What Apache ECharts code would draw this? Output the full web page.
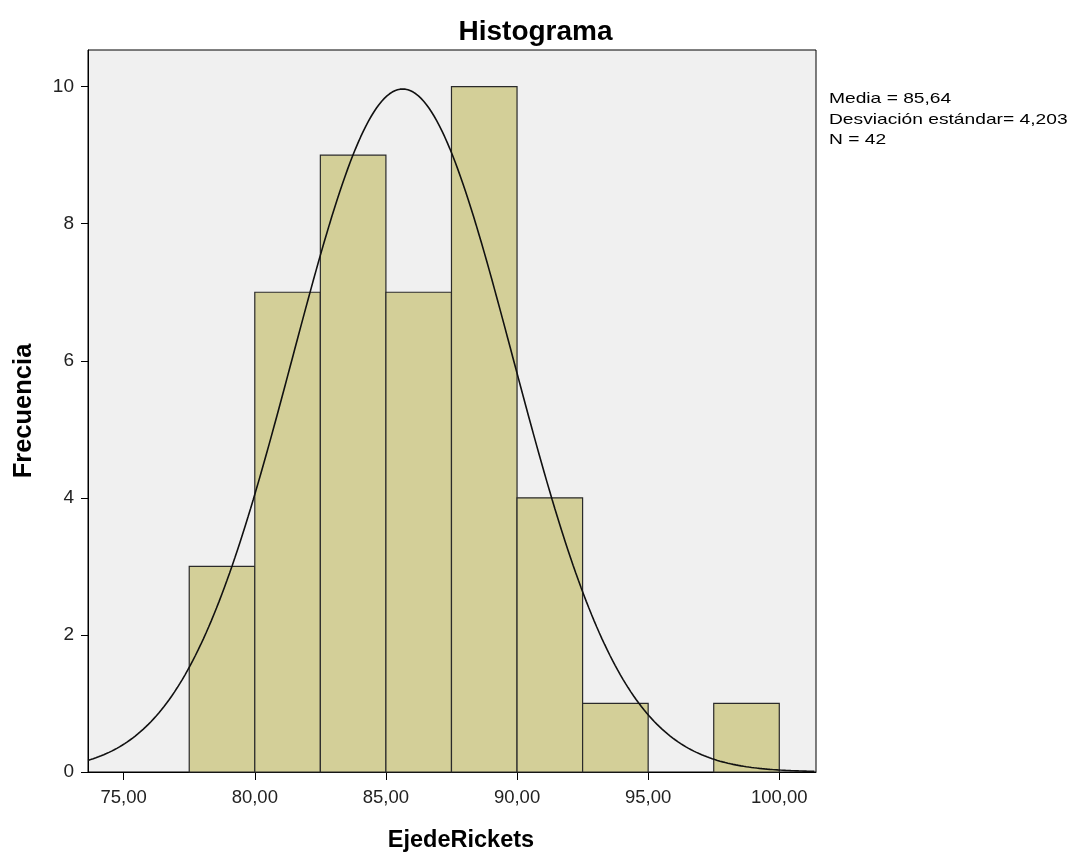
<!DOCTYPE html>
<html>
<head>
<meta charset="utf-8">
<script src="https://cdn.jsdelivr.net/npm/echarts@6/dist/echarts.min.js"></script>
<style>
  html, body { margin: 0; padding: 0; background: #fff; }
  #chart { width: 1071px; height: 854px; }
</style>
</head>
<body>
<div id="chart"></div>
<script>
// Histogram bins of EjedeRickets (lower edge, upper edge) and their counts
const binStarts = [77.5, 80, 82.5, 85, 87.5, 90, 92.5, 95, 97.5];
const binEnds   = [80, 82.5, 85, 87.5, 90, 92.5, 95, 97.5, 100];
const counts    = [3, 7, 9, 7, 10, 4, 1, 0, 1];

// Summary statistics shown beside the plot
const media = 85.64;
const desviacion = 4.203;
const n = 42;

// Tick values for both axes
const xTicks = [75, 80, 85, 90, 95, 100];
const yTicks = [0, 2, 4, 6, 8, 10];

const xMin = 73.64, xMax = 101.4;
const yMin = 0, yMax = 10.535;

// Normal curve scaled to frequency: N * bin width * density(x)
const binWidth = binEnds[0] - binStarts[0];
const curve = [];
for (let x = xMin; x <= xMax + 1e-9; x += 0.1) {
  const z = (x - media) / desviacion;
  const y = n * binWidth * Math.exp(-0.5 * z * z) / (desviacion * Math.sqrt(2 * Math.PI));
  curve.push([x, y]);
}

const bars = binStarts.map((s, i) => [s, binEnds[i], counts[i]]);
const fmt = v => v.toFixed(2).replace('.', ',');
const font = 'Liberation Sans, Arial, sans-serif';

const chart = echarts.init(document.getElementById('chart'), null, { renderer: 'canvas' });
chart.setOption({
  animation: false,
  title: {
    text: 'Histograma',
    left: 'center',
    top: 13,
    textStyle: { fontFamily: font, fontSize: 28, fontWeight: 'bold', color: '#000' }
  },
  graphic: [{
    type: 'text',
    left: 829,
    top: 89,
    scaleX: 1.28,
    style: {
      text: 'Media = ' + String(media).replace('.', ',') + '\n' +
            'Desviación estándar= ' + String(desviacion).replace('.', ',') + '\n' +
            'N = ' + n,
      fontFamily: font,
      fontSize: 15,
      lineHeight: 20.5,
      fill: '#000'
    }
  }],
  grid: {
    left: 88, right: 255, top: 50, bottom: 82,
    outerBoundsMode: 'none',
    show: true,
    backgroundColor: '#F0F0F0',
    borderColor: '#000',
    borderWidth: 1
  },
  xAxis: {
    type: 'value',
    min: xMin, max: xMax,
    name: 'EjedeRickets',
    nameLocation: 'middle',
    nameGap: 57,
    nameTextStyle: {
      fontFamily: font, fontSize: 23.5, fontWeight: 'bold', color: '#000',
      padding: [0, 0, 0, 18]
    },
    splitLine: { show: false },
    axisLine: { lineStyle: { color: '#000', width: 1 } },
    axisTick: { show: true, customValues: xTicks, length: 8, lineStyle: { color: '#000', width: 1 } },
    axisLabel: {
      customValues: xTicks,
      formatter: v => fmt(v),
      margin: 16,
      fontFamily: font, fontSize: 18.5, color: '#222'
    }
  },
  yAxis: {
    type: 'value',
    min: yMin, max: yMax,
    name: 'Frecuencia',
    nameLocation: 'middle',
    nameGap: 51,
    nameTextStyle: { fontFamily: font, fontSize: 25.5, fontWeight: 'bold', color: '#000' },
    splitLine: { show: false },
    axisLine: { show: true, lineStyle: { color: '#000', width: 1 } },
    axisTick: { show: true, customValues: yTicks, length: 7, lineStyle: { color: '#000', width: 1 } },
    axisLabel: {
      customValues: yTicks,
      margin: 14,
      padding: [6, 0, 0, 0],
      fontFamily: font, fontSize: 19, color: '#222'
    }
  },
  series: [
    {
      type: 'custom',
      data: bars,
      encode: { x: [0, 1], y: 2 },
      renderItem: (params, api) => {
        const count = api.value(2);
        if (count <= 0) return null;
        const p0 = api.coord([api.value(0), 0]);
        const p1 = api.coord([api.value(1), count]);
        return {
          type: 'rect',
          shape: { x: p0[0], y: p1[1], width: p1[0] - p0[0], height: p0[1] - p1[1] },
          style: { fill: '#D3CF98', stroke: '#2a2a2a', lineWidth: 1.2 }
        };
      },
      z: 2
    },
    {
      type: 'line',
      data: curve,
      showSymbol: false,
      smooth: false,
      lineStyle: { color: '#111', width: 1.6 },
      z: 3
    }
  ]
});
</script>
</body>
</html>
